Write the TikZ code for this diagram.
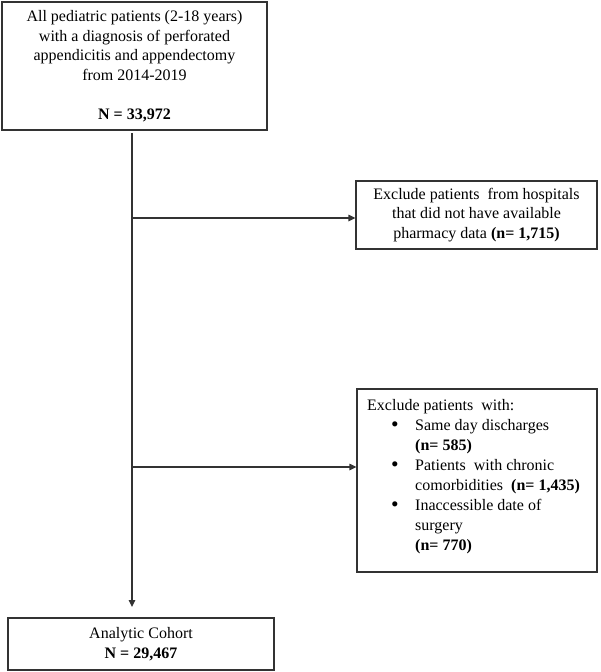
\documentclass[tikz,border=0pt]{standalone}
\usepackage{fontspec}
\setmainfont{Liberation Serif}
\usetikzlibrary{arrows.meta,calc}
\begin{document}
\begin{tikzpicture}[x=1pt,y=-1pt,
  box/.style={draw=black!80,line width=1.2pt,rectangle,inner sep=0pt,align=center,
    font=\fontsize{16}{19.5}\selectfont},
  txt/.style={inner sep=0pt,align=left,font=\fontsize{16}{20}\selectfont},
  conn/.style={draw=black!80,line width=1.2pt},
  arr/.style={conn,-{Triangle[length=7pt,width=6.5pt]}}]
\useasboundingbox (0,0) rectangle (600,672);
\fill[white] (0,0) rectangle (600,672);
\node[box,minimum width=265pt,minimum height=128pt] (b1) at (134.5,66)
  {All pediatric patients (2-18 years)\\with a diagnosis of perforated\\appendicitis and appendectomy\\from 2014-2019\\[19.5pt]\textbf{N = 33,972}};
\node[box,minimum width=241pt,minimum height=68pt] (b2) at (476.5,215)
  {Exclude patients\ \ from hospitals\\that did not have available\\pharmacy data \textbf{(n= 1,715)}};
\node[box,minimum width=240pt,minimum height=183pt] (b3) at (477,480.5) {};
\node[txt,anchor=north west] (t3) at (367,399.5)
  {Exclude patients\ \ with:\\
   \hspace*{24pt}\makebox[24pt][l]{\raisebox{-0.5pt}{\scalebox{1.35}{\textbullet}}}Same day discharges\\
   \hspace*{48pt}\textbf{(n= 585)}\\
   \hspace*{24pt}\makebox[24pt][l]{\raisebox{-0.5pt}{\scalebox{1.35}{\textbullet}}}Patients\ \ with chronic\\
   \hspace*{48pt}comorbidities\ \ \textbf{(n= 1,435)}\\
   \hspace*{24pt}\makebox[24pt][l]{\raisebox{-0.5pt}{\scalebox{1.35}{\textbullet}}}Inaccessible date of\\
   \hspace*{48pt}surgery\\
   \hspace*{48pt}\textbf{(n= 770)}};
\node[box,minimum width=266pt,minimum height=52pt] (b4) at (141,644)
  {Analytic Cohort\\\textbf{N = 29,467}};
\coordinate (s) at (132,133);
\coordinate (e) at (132,607);
\coordinate (j1) at (132,218);
\coordinate (j2) at (132,467);
\draw[arr] (s) -- (e);
\draw[arr] (j1) -- (j1 -| b2.west);
\draw[arr] (j2) -- (j2 -| b3.west);
\end{tikzpicture}
\end{document}
